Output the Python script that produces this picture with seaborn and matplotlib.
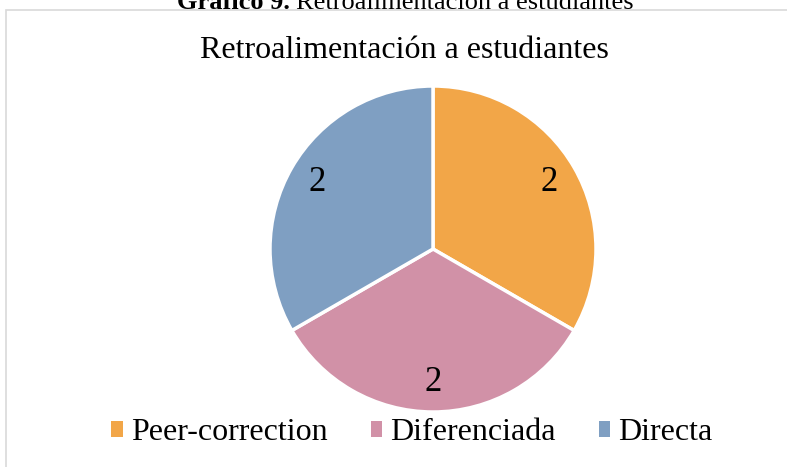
import matplotlib
matplotlib.use("Agg")
import matplotlib.pyplot as plt
from matplotlib.patches import Rectangle, Patch
import seaborn as sns

# data
categories = ["Peer-correction", "Diferenciada", "Directa"]
values = [2, 2, 2]
colors = ["#F2A648", "#D191A7", "#7F9FC2"]

sns.set_theme(style="white")
plt.rcParams["font.family"] = ["Liberation Serif", "DejaVu Serif"]
plt.rcParams["text.color"] = "black"

W, H = 787, 467
fig = plt.figure(figsize=(W / 100, H / 100), dpi=100)

# outer border of the chart area (runs off right/bottom like the original crop)
fig.patches.append(Rectangle((6 / W, -0.1), 1.2, 1 - 10 / H + 0.1,
                             transform=fig.transFigure, fill=False,
                             edgecolor="#D9D9D9", linewidth=1.2))

# caption (clipped at top, as in the source document)
fig.text(290 / W, 1 - 9 / H, "Gráfico 9.", ha="right", va="baseline",
         fontsize=19, fontweight="bold", color="black")
fig.text(296 / W, 1 - 9 / H, "Retroalimentación a estudiantes", ha="left",
         va="baseline", fontsize=19, color="black")

# chart title
fig.text(404 / W, 1 - 50 / H, "Retroalimentación a estudiantes", ha="center",
         va="center", fontsize=23, color="black")

cx, cy, r = 433, 249, 163
ax = fig.add_axes([(cx - r) / W, (H - cy - r) / H, 2 * r / W, 2 * r / H])
total = sum(values)
wedges, texts, autotexts = ax.pie(
    values, colors=sns.color_palette(colors), startangle=90, counterclock=False,
    autopct=lambda p: f"{p * total / 100:.0f}", pctdistance=0.82,
    wedgeprops=dict(edgecolor="white", linewidth=2.5),
    textprops=dict(fontsize=25, color="black"))
ax.set_xlim(-1, 1)
ax.set_ylim(-1, 1)
ax.set_aspect("equal")
ax.axis("off")

handles = [Patch(facecolor=c, edgecolor="none") for c in colors]
leg = fig.legend(handles, categories, loc="center", bbox_to_anchor=(412 / W, 1 - 433 / H),
                 ncol=3, frameon=False, fontsize=23, handlelength=0.36, handleheight=0.36,
                 handletextpad=0.25, columnspacing=1.35, borderpad=0)
for t in leg.get_texts():
    t.set_color("black")

fig.savefig("out.png", dpi=100, facecolor="white")
